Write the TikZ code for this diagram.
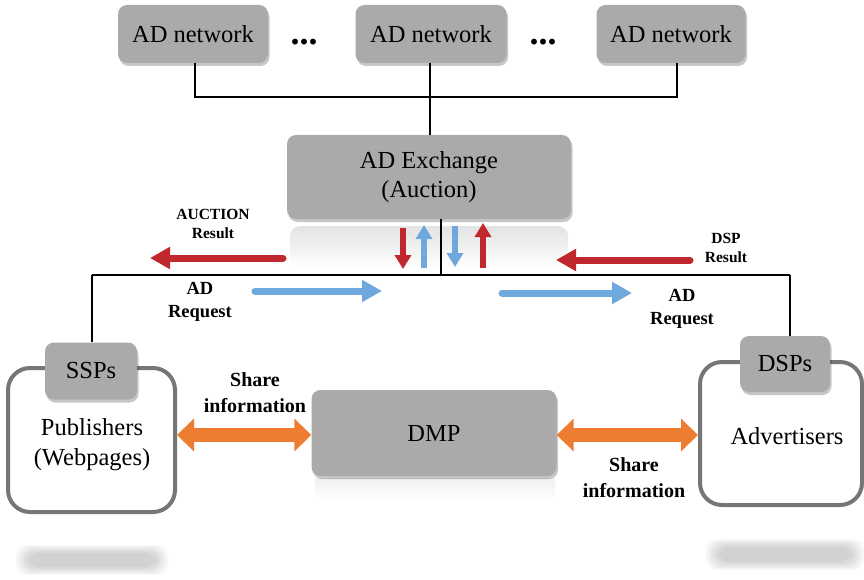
\documentclass[tikz,border=0pt]{standalone}
\usepackage{fontspec}
\setmainfont{Liberation Serif}
\usetikzlibrary{arrows.meta,shadows,fadings}
\definecolor{boxgray}{RGB}{172,169,170}
\definecolor{framegray}{RGB}{118,118,118}
\definecolor{resred}{RGB}{192,40,45}
\definecolor{reqblue}{RGB}{111,168,220}
\definecolor{infoorange}{RGB}{237,125,49}
\tikzset{
  box/.style={rounded corners=9pt, fill=boxgray, inner sep=0pt,
    drop shadow={shadow xshift=1.5pt, shadow yshift=-3pt, fill=black, opacity=0.22},
    font=\fontsize{24.5}{29}\selectfont, align=center},
  frame/.style={draw=framegray, line width=4pt, rounded corners=22pt, fill=white},
  link/.style={line width=2.8pt, black},
  smalllbl/.style={font=\fontsize{15.5}{19}\selectfont\bfseries, align=center},
  reqlbl/.style={font=\fontsize{18.5}{23}\selectfont\bfseries, align=center},
  infolbl/.style={font=\fontsize{20}{26}\selectfont\bfseries, align=center},
  plain/.style={font=\fontsize{24.5}{30}\selectfont, align=center},
  dotsep/.style={font=\fontsize{36}{36}\selectfont\bfseries, anchor=base},
  flow/.style={line width=7pt, line cap=round, -{Triangle[length=20pt,width=21pt]}},
  updown/.style={line width=6.5pt, -{Triangle[length=14pt,width=16pt]}},
  share/.style={line width=14pt, infoorange,
    {Triangle[length=17pt,width=32pt]}-{Triangle[length=17pt,width=32pt]}}
}
\begin{document}
\begin{tikzpicture}[x=1pt,y=-1pt]
\useasboundingbox (0,0) rectangle (864,580);

% blurred reflections beneath the lower boxes
\foreach \o in {0,1,2,3,4,5} {
  \fill[gray, opacity=0.07, rounded corners=12pt] (16+\o*2.5,545+\o*1.6) rectangle (168-\o*2.5,575-\o*1.6);
  \fill[gray, opacity=0.07, rounded corners=12pt] (706+\o*2.5,539+\o*1.6) rectangle (864-\o*2.5,570-\o*1.6);
}
\shade[top color=gray!22, bottom color=white, rounded corners=10pt] (290,226) rectangle (568,268);
\shade[top color=gray!12, bottom color=white] (315,478) rectangle (555,500);

% ad networks
\node[box, minimum width=150pt, minimum height=58pt] (net1) at (193,34) {AD network};
\node[box, minimum width=151pt, minimum height=58pt] (net2) at (431,34) {AD network};
\node[box, minimum width=149pt, minimum height=58pt] (net3) at (671,34) {AD network};
\node[dotsep] (dots1) at (304,45) {...};
\node[dotsep] (dots2) at (543,45) {...};

% ad exchange
\node[box, minimum width=284pt, minimum height=84pt] (adx) at (429,177) {AD Exchange\\(Auction)};

% bus joining the networks to the exchange
\coordinate (bus) at (430,97);
\draw[link] (net1.south -| 195,0) |- (bus);
\draw[link] (net3.south -| 677,0) |- (bus);
\draw[link] (net2.south -| bus) -- (bus) -- (adx.north -| bus);

% lower bus
\coordinate (mid) at (441,275);
\coordinate (leftend) at (92,275);
\coordinate (rightend) at (790,275);
\draw[link] (adx.south -| mid) -- (mid);
\draw[link] (leftend) -- (rightend);

% publishers and SSPs
\node[frame, minimum width=167pt, minimum height=144pt] (pubframe) at (91.5,440) {};
\node[plain] (pub) at (92,445) {Publishers\\(Webpages)};
\node[box, minimum width=92pt, minimum height=57pt] (ssp) at (91,371) {SSPs};
\draw[link] (leftend) -- (leftend |- ssp.north);

% advertisers and DSPs
\node[frame, minimum width=162pt, minimum height=143pt] (advframe) at (781,433.5) {};
\node[plain] (adv) at (787,436) {Advertisers};
\node[box, minimum width=90pt, minimum height=56pt] (dsp) at (785,364) {DSPs};
\draw[link] (rightend) -- (rightend |- dsp.north);

% data management platform
\node[box, minimum width=245pt, minimum height=86pt] (dmp) at (434,433) {DMP};

% information sharing
\draw[share] (pubframe.east |- 0,435) -- (dmp.west |- 0,435);
\draw[share] (dmp.east |- 0,435) -- (advframe.west |- 0,435);
\node[infolbl] (infoL) at (255,393) {Share\\information};
\node[infolbl] (infoR) at (634,478) {Share\\information};

% requests and results around the exchange
\coordinate (ar1) at (403,228); \coordinate (ar1e) at (403,269);
\coordinate (ab1) at (424,268); \coordinate (ab1e) at (424,225);
\coordinate (ab2) at (455,226); \coordinate (ab2e) at (455,267);
\coordinate (ar2) at (483,268); \coordinate (ar2e) at (483,223);
\draw[updown, resred] (ar1) -- (ar1e);
\draw[updown, reqblue] (ab1) -- (ab1e);
\draw[updown, reqblue] (ab2) -- (ab2e);
\draw[updown, resred] (ar2) -- (ar2e);

\coordinate (auS) at (283,258); \coordinate (auE) at (150,258);
\coordinate (dsS) at (690,260); \coordinate (dsE) at (556,260);
\coordinate (rqS) at (255,291); \coordinate (rqE) at (382,291);
\coordinate (rq2S) at (502,293); \coordinate (rq2E) at (632,293);
\draw[flow, resred] (auS) -- (auE);
\draw[flow, resred] (dsS) -- (dsE);
\draw[flow, reqblue] (rqS) -- (rqE);
\draw[flow, reqblue] (rq2S) -- (rq2E);

\node[smalllbl] (auLbl) at (213,224) {AUCTION\\Result};
\node[smalllbl] (dsLbl) at (726,248) {DSP\\Result};
\node[reqlbl] (rqLbl) at (200,302) {AD\\Request};
\node[reqlbl] (rq2Lbl) at (682,309) {AD\\Request};
\end{tikzpicture}
\end{document}
